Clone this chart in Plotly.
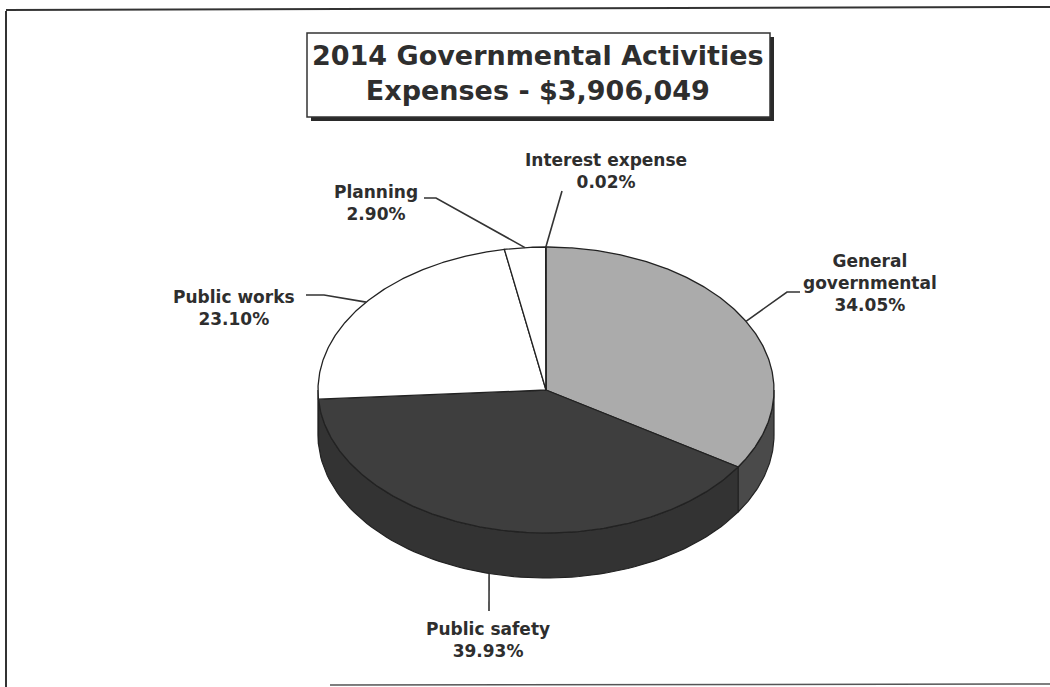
import numpy as np
import plotly.graph_objects as go

# ---------------- data ----------------
categories = ["General governmental", "Public safety", "Public works", "Planning", "Interest expense"]
label_lines = ["General<br>governmental", "Public safety", "Public works", "Planning", "Interest expense"]
percents = [34.05, 39.93, 23.10, 2.90, 0.02]
title_lines = ["2014 Governmental Activities", "Expenses - $3,906,049"]

# ---------------- style ----------------
top_colors = ["#ababab", "#3e3e3e", "#ffffff", "#ffffff", "#ffffff"]
side_colors = ["#4a4a4a", "#333333", "#f4f4f4", "#f4f4f4", "#f4f4f4"]
edge_color = "#222222"
text_color = "#2e2e2e"
FONT = "DejaVu Sans"

# pie geometry in page pixels (x right, y down)
CX, CY, RX, RY, DEPTH = 546, 390, 228, 143, 45

# label placement (layout): (text centre x, text centre y, leader elbow points)
label_layout = {
    "General governmental": dict(x=870, y=283, path=[(787, 292), (800, 292)]),
    "Public safety": dict(x=488, y=640, path=[(489, 611)]),
    "Public works": dict(x=234, y=308, path=[(324, 295), (306, 295)]),
    "Planning": dict(x=376, y=203, path=[(436, 198), (424, 198)]),
    "Interest expense": dict(x=606, y=171, path=[(562, 191)]),
}


def ell(theta_deg, dy=0.0):
    t = np.radians(theta_deg)
    return CX + RX * np.sin(t), CY - RY * np.cos(t) + dy


fig = go.Figure()

total = sum(percents)
starts, ends = [], []
acc = 0.0
for p in percents:
    a0 = acc / total * 360.0
    acc += p
    a1 = acc / total * 360.0
    starts.append(a0)
    ends.append(a1)

# side walls (visible for angles between 90 and 270 deg, clockwise from top)
for cat, a0, a1, sc in zip(categories, starts, ends, side_colors):
    lo, hi = max(a0, 90.0), min(a1, 270.0)
    if hi <= lo:
        continue
    th = np.linspace(lo, hi, 80)
    xt, yt = ell(th)
    xb, yb = ell(th[::-1], DEPTH)
    xs = np.concatenate([xt, xb, xt[:1]])
    ys = np.concatenate([yt, yb, yt[:1]])
    fig.add_trace(go.Scatter(x=xs, y=ys, mode="lines", fill="toself", fillcolor=sc,
                             line=dict(color=edge_color, width=1.2), hoverinfo="skip",
                             showlegend=False))

# top faces
for cat, a0, a1, tc, p in zip(categories, starts, ends, top_colors, percents):
    n = max(3, int((a1 - a0) * 2))
    th = np.linspace(a0, a1, n)
    xa, ya = ell(th)
    xs = np.concatenate([[CX], xa, [CX]])
    ys = np.concatenate([[CY], ya, [CY]])
    fig.add_trace(go.Scatter(x=xs, y=ys, mode="lines", fill="toself", fillcolor=tc,
                             line=dict(color=edge_color, width=1.3), name=cat,
                             hovertemplate=f"{cat}: {p:.2f}%<extra></extra>",
                             showlegend=False))

# leader lines + labels
for cat, lab, a0, a1, p in zip(categories, label_lines, starts, ends, percents):
    mid = (a0 + a1) / 2.0
    ax, ay = ell(mid)
    if 90.0 < mid < 270.0 and cat == "Public safety":
        ay += DEPTH
    lay = label_layout[cat]
    px = [ax] + [q[0] for q in lay["path"]]
    py = [ay] + [q[1] for q in lay["path"]]
    fig.add_trace(go.Scatter(x=px, y=py, mode="lines", line=dict(color="#333333", width=1.6),
                             hoverinfo="skip", showlegend=False))
    fig.add_annotation(x=lay["x"], y=lay["y"], xref="x", yref="y", showarrow=False,
                       text=f"{lab}<br>{p:.2f}%", align="center",
                       font=dict(family=FONT, size=17, color=text_color, weight="bold"))

# title box with shadow
fig.add_shape(type="rect", xref="x", yref="y", x0=311, y0=37, x1=774, y1=121,
              fillcolor="#2a2a2a", line=dict(width=0))
fig.add_shape(type="rect", xref="x", yref="y", x0=307, y0=33, x1=770, y1=117,
              fillcolor="#ffffff", line=dict(color="#333333", width=1.5))
fig.add_annotation(x=538, y=73, xref="x", yref="y", showarrow=False,
                   text="<br>".join(title_lines), align="center",
                   font=dict(family=FONT, size=27, color=text_color, weight="bold"))

# outer frame
fig.add_shape(type="line", xref="x", yref="y", x0=6, y0=11, x1=6, y1=687,
              line=dict(color="#333333", width=2))
fig.add_shape(type="line", xref="x", yref="y", x0=6, y0=10, x1=1050, y1=7,
              line=dict(color="#333333", width=2))
fig.add_shape(type="line", xref="x", yref="y", x0=330, y0=685, x1=1050, y1=684,
              line=dict(color="#555555", width=1.5))

fig.update_layout(
    width=1050, height=687,
    margin=dict(l=0, r=0, t=0, b=0),
    paper_bgcolor="white", plot_bgcolor="white",
    xaxis=dict(range=[0, 1050], visible=False, fixedrange=True),
    yaxis=dict(range=[687, 0], visible=False, fixedrange=True),
    showlegend=False,
)

fig.write_html("out.html")
